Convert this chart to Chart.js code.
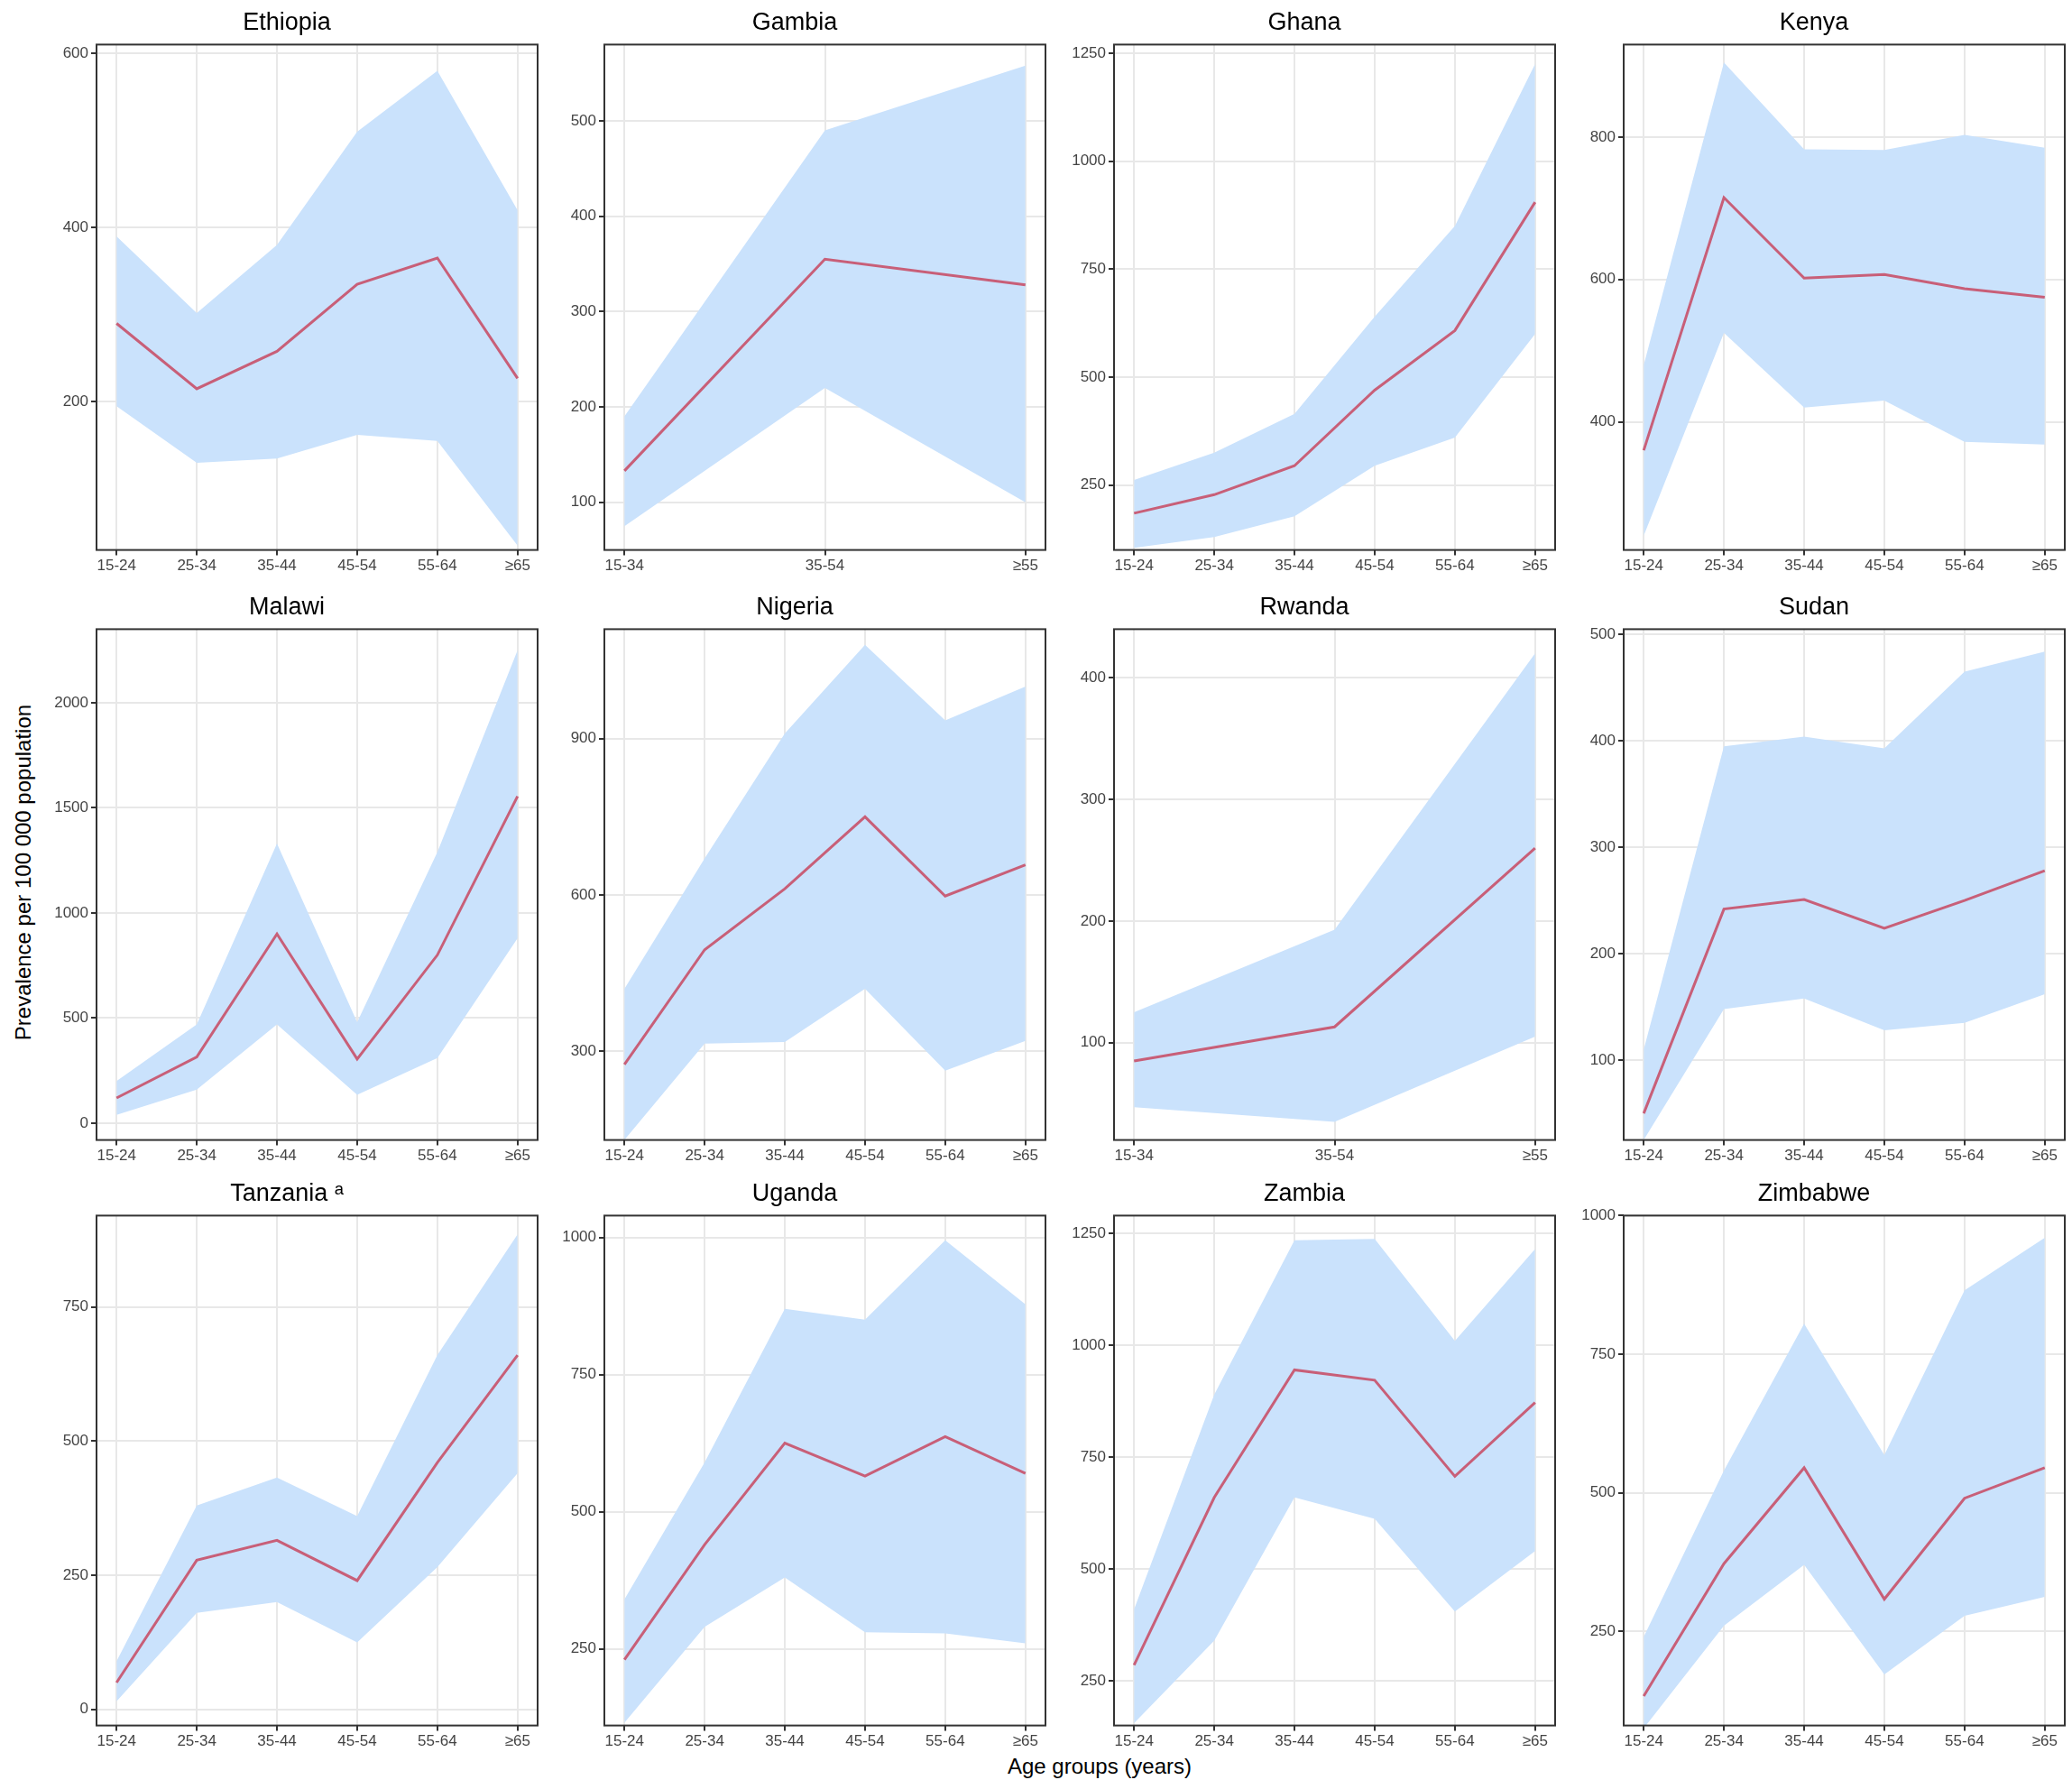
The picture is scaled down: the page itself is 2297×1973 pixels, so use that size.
<!DOCTYPE html>
<html><head><meta charset="utf-8">
<script src="https://cdn.jsdelivr.net/npm/chart.js@4"></script>
<style>
body{margin:0;background:#fff;width:2297px;height:1973px;position:relative;overflow:hidden;font-family:"Liberation Sans",Arial,sans-serif}
canvas{position:absolute}
.lab{position:absolute;font-size:24px;color:#000;white-space:nowrap}
</style></head><body>
<div class="lab" style="left:1219px;top:1958px;transform:translate(-50%,-50%)">Age groups (years)</div>
<div class="lab" style="left:26px;top:967px;transform:translate(-50%,-50%) rotate(-90deg)">Prevalence per 100 000 population</div>
<script>
const ages6 = ["15-24","25-34","35-44","45-54","55-64","≥65"];
const ages3 = ["15-34","35-54","≥55"];
const countries = ["Ethiopia","Gambia","Ghana","Kenya","Malawi","Nigeria","Rwanda","Sudan","Tanzania ᵃ","Uganda","Zambia","Zimbabwe"];
const ethiopiaMid=[290,215,258,335,365,227], ethiopiaHi=[390,302,380,510,580,420], ethiopiaLo=[195,130,135,162,155,35];
const gambiaMid=[133,355,328], gambiaHi=[190,490,558], gambiaLo=[75,220,100];
const ghanaMid=[185,228,295,470,608,905], ghanaHi=[262,325,415,640,850,1225], ghanaLo=[105,130,178,295,360,600];
const kenyaMid=[360,715,602,607,587,575], kenyaHi=[480,905,783,782,803,785], kenyaLo=[240,525,420,430,372,368];
const malawiMid=[120,315,900,305,800,1555], malawiHi=[200,470,1330,480,1290,2250], malawiLo=[40,160,470,135,310,880];
const nigeriaMid=[275,495,612,750,598,658], nigeriaHi=[420,670,910,1080,935,1000], nigeriaLo=[130,315,318,420,263,320];
const rwandaMid=[85,113,260], rwandaHi=[125,193,420], rwandaLo=[47,35,105];
const sudanMid=[50,242,251,224,250,278], sudanHi=[110,395,404,393,465,484], sudanLo=[25,148,158,128,135,162];
const tanzaniaMid=[50,278,315,240,460,660], tanzaniaHi=[90,380,432,360,660,885], tanzaniaLo=[15,180,200,125,265,440];
const ugandaMid=[230,440,625,565,637,570], ugandaHi=[340,590,870,850,995,878], ugandaLo=[115,290,380,280,278,260];
const zambiaMid=[285,660,945,922,707,872], zambiaHi=[410,890,1235,1238,1010,1215], zambiaLo=[155,340,660,612,405,540];
const zimbabweMid=[133,372,545,308,490,545], zimbabweHi=[240,540,805,568,865,960], zimbabweLo=[75,260,370,172,278,312];
const yMin=[30,50,100,220,-80,130,20,25,-30,110,150,80];
const yMax=[610,580,1270,930,2350,1110,440,505,920,1040,1290,1000];
const yStep=[200,100,250,200,500,300,100,100,250,250,250,250];

const series=[
 [ethiopiaLo,ethiopiaHi,ethiopiaMid,ages6],[gambiaLo,gambiaHi,gambiaMid,ages3],[ghanaLo,ghanaHi,ghanaMid,ages6],[kenyaLo,kenyaHi,kenyaMid,ages6],
 [malawiLo,malawiHi,malawiMid,ages6],[nigeriaLo,nigeriaHi,nigeriaMid,ages6],[rwandaLo,rwandaHi,rwandaMid,ages3],[sudanLo,sudanHi,sudanMid,ages6],
 [tanzaniaLo,tanzaniaHi,tanzaniaMid,ages6],[ugandaLo,ugandaHi,ugandaMid,ages6],[zambiaLo,zambiaHi,zambiaMid,ages6],[zimbabweLo,zimbabweHi,zimbabweMid,ages6]];
const colL=[107,670,1235,1800], colW=489;
const rowT=[53,701,1351], rowH=[545,551,550];
const YW=67, TOP=50, BOT=42, PR=5;
const border={id:'border',afterDraw(c){const a=c.chartArea,x=c.ctx;x.save();x.strokeStyle='#333';x.lineWidth=2;x.strokeRect(a.left,a.top,a.right-a.left,a.bottom-a.top);x.restore();}};
const pts=(arr)=>arr.map((v,k)=>({x:k,y:v}));
series.forEach((s,i)=>{
 const r=Math.floor(i/4), col=i%4;
 const cv=document.createElement('canvas');
 const w=colW+YW+PR, h=rowH[r]+TOP+BOT;
 cv.style.left=(colL[col]-YW)+'px'; cv.style.top=(rowT[r]-TOP)+'px';
 cv.style.width=w+'px'; cv.style.height=h+'px'; cv.width=w; cv.height=h;
 document.body.appendChild(cv);
 const labels=s[3], n=labels.length, ex=(n-1)*0.05;
 new Chart(cv,{type:'line',data:{datasets:[
  {data:pts(s[0]),borderWidth:0,pointRadius:0,fill:false,order:2,tension:0},
  {data:pts(s[1]),borderWidth:0,pointRadius:0,fill:'-1',backgroundColor:'rgb(202,226,252)',order:1,tension:0},
  {data:pts(s[2]),borderColor:'rgb(200,95,120)',borderWidth:3,pointRadius:0,fill:false,order:0,tension:0}]},
  options:{responsive:false,animation:false,devicePixelRatio:1,
   layout:{padding:{right:PR,top:0,bottom:0}},
   plugins:{legend:{display:false},tooltip:{enabled:false},
    title:{display:true,text:countries[i],color:'#000',font:{size:27,weight:'normal',family:'Liberation Sans'},padding:{top:6,bottom:8}}},
   scales:{
    x:{type:'linear',min:-ex,max:n-1+ex,grid:{color:'#e8e8e8',lineWidth:2,tickColor:'#333',tickLength:6},border:{display:false},
       afterBuildTicks(a){a.ticks=labels.map((l,k)=>({value:k}));},
       ticks:{color:'#444',font:{size:17,family:'Liberation Sans'},maxRotation:0,autoSkip:false,padding:2,callback:v=>labels[v]}},
    y:{min:yMin[i],max:yMax[i],afterFit(a){a.width=YW;},
       afterBuildTicks(a){const t=[];for(let v=Math.ceil(yMin[i]/yStep[i])*yStep[i];v<=yMax[i];v+=yStep[i])t.push({value:v});a.ticks=t;},
       grid:{color:'#e8e8e8',lineWidth:2,tickColor:'#333',tickLength:6},border:{display:false},
       ticks:{color:'#444',font:{size:17,family:'Liberation Sans'},padding:3,callback:v=>String(v)}}}},
  plugins:[border]});
});
</script></body></html>
